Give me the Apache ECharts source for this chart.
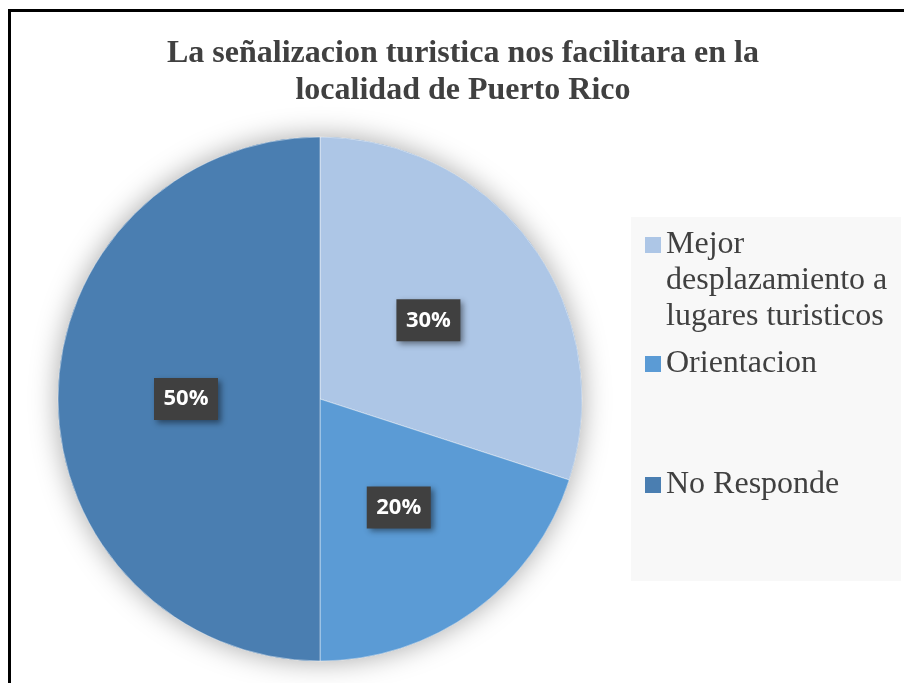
<!DOCTYPE html>
<html>
<head>
<meta charset="utf-8">
<script src="https://cdn.jsdelivr.net/npm/echarts@6/dist/echarts.min.js"></script>
<style>
  html, body { margin: 0; padding: 0; background: #fff; }
  #chart { width: 904px; height: 683px; }
</style>
</head>
<body>
<div id="chart"></div>
<script>
// datos del grafico
const categories = ['Mejor desplazamiento a lugares turisticos', 'Orientacion', 'No Responde']
const values = [30, 20, 50]
const colors = ['#adc6e6', '#5b9bd5', '#4a7eb1']

const chart = echarts.init(document.getElementById('chart'))

const legendText = {
  fontFamily: 'Liberation Serif, Times New Roman, serif',
  fontSize: 32,
  lineHeight: 36,
  color: '#404040'
}

// una leyenda por elemento para fijar la posicion vertical
// (dos lineas vacias al inicio para que el icono quede junto a "Mejor")
function legendItem(name, top) {
  return {
    data: [name],
    orient: 'vertical',
    left: 645,
    top: top,
    padding: 0,
    icon: 'rect',
    itemWidth: 16,
    itemHeight: 16,
    itemGap: 0,
    itemStyle: { borderWidth: 0 },
    selectedMode: false,
    formatter: n => n === categories[0] ? '\n\nMejor\ndesplazamiento a\nlugares turisticos' : n,
    textStyle: legendText
  }
}

chart.setOption({
  animation: false,
  title: {
    text: 'La señalizacion turistica nos facilitara en la\nlocalidad de Puerto Rico',
    left: 458,
    textAlign: 'center',
    top: 30,
    textStyle: {
      fontFamily: 'Liberation Serif, Times New Roman, serif',
      fontWeight: 'bold',
      fontSize: 32,
      lineHeight: 37,
      color: '#404040'
    }
  },
  graphic: [
    { type: 'rect', z: -10, shape: { x: 631, y: 217, width: 270, height: 364 }, style: { fill: '#f8f8f8' } },
    { type: 'line', shape: { x1: 9.5, y1: 9, x2: 9.5, y2: 683 }, style: { stroke: '#000', lineWidth: 3 } },
    { type: 'line', shape: { x1: 8, y1: 10.5, x2: 904, y2: 10.5 }, style: { stroke: '#000', lineWidth: 3 } }
  ],
  legend: [
    legendItem(categories[0], 155),
    legendItem(categories[1], 346),
    legendItem(categories[2], 467)
  ],
  series: [
    {
      // sombra debajo del pastel
      type: 'pie',
      silent: true,
      z: 1,
      center: [320, 399],
      radius: 262,
      label: { show: false },
      itemStyle: { color: '#4a7eb1', shadowBlur: 28, shadowColor: 'rgba(0,0,0,0.35)' },
      data: [{ name: 'sombra', value: values.reduce((a, b) => a + b, 0) }]
    },
    {
      type: 'pie',
      z: 2,
      center: [320, 399],
      radius: 262,
      startAngle: 90,
      clockwise: true,
      color: colors,
      itemStyle: { borderColor: 'rgba(255,255,255,0.45)', borderWidth: 1 },
      emphasis: { disabled: true },
      label: {
        position: 'inside',
        formatter: '{d}%',
        fontFamily: 'Open Sans, sans-serif',
        fontWeight: 'bold',
        fontSize: 22,
        color: '#fff',
        backgroundColor: '#404040',
        width: 64,
        height: 42,
        lineHeight: 42,
        align: 'center',
        verticalAlign: 'middle',
        shadowColor: 'rgba(0,0,0,0.45)',
        shadowBlur: 6,
        shadowOffsetX: 3,
        shadowOffsetY: 3
      },
      labelLine: { show: false },
      data: categories.map((c, i) => ({ name: c, value: values[i] }))
    }
  ]
})
</script>
</body>
</html>
